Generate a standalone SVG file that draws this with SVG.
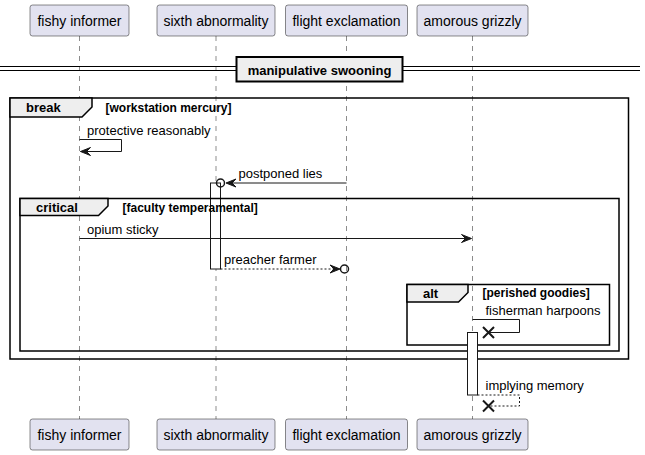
<svg xmlns="http://www.w3.org/2000/svg" width="645" height="455" viewBox="0 0 645 455">
<defs>
<style>
.pbox{fill:#E2E2F0;stroke:#181818;stroke-width:0.5}
.ptxt{font-family:"Liberation Sans",Arial,sans-serif;font-size:14px;fill:#000;text-anchor:middle}
.life{stroke:#181818;stroke-width:0.5;stroke-dasharray:5,5;fill:none}
.frame{fill:none;stroke:#000;stroke-width:1.5}
.tab{fill:#EEEEEE;stroke:#000;stroke-width:1.5}
.ftitle{font-family:"Liberation Sans",Arial,sans-serif;font-size:13px;font-weight:bold;fill:#000}
.fcond{font-family:"Liberation Sans",Arial,sans-serif;font-size:12px;font-weight:bold;fill:#000}
.msg{font-family:"Liberation Sans",Arial,sans-serif;font-size:13px;fill:#000}
.line{stroke:#181818;stroke-width:1;fill:none}
.dash{stroke:#181818;stroke-width:1;fill:none;stroke-dasharray:2,2}
.head{fill:#181818;stroke:#181818;stroke-width:1}
.act{fill:#FFFFFF;stroke:#181818;stroke-width:1}
.circ{fill:none;stroke:#181818;stroke-width:1.5}
.x{stroke:#181818;stroke-width:2;fill:none}
</style>
</defs>
<rect width="645" height="455" fill="#FFFFFF"/>

<g id="lifelines">
<line class="life" x1="79.5" y1="36" x2="79.5" y2="419"/>
<line class="life" x1="216" y1="36" x2="216" y2="419"/>
<line class="life" x1="346.5" y1="36" x2="346.5" y2="419"/>
<line class="life" x1="472.5" y1="36" x2="472.5" y2="419"/>
</g>

<g id="fishy-informer">
<rect class="pbox" x="30" y="5" width="99" height="31" rx="2.5"/>
<text class="ptxt" x="79.5" y="25.5">fishy informer</text>
<rect class="pbox" x="30" y="419" width="99" height="31" rx="2.5"/>
<text class="ptxt" x="79.5" y="439.5">fishy informer</text>
</g>
<g id="sixth-abnormality">
<rect class="pbox" x="157" y="5" width="118" height="31" rx="2.5"/>
<text class="ptxt" x="216" y="25.5">sixth abnormality</text>
<rect class="pbox" x="157" y="419" width="118" height="31" rx="2.5"/>
<text class="ptxt" x="216" y="439.5">sixth abnormality</text>
</g>
<g id="flight-exclamation">
<rect class="pbox" x="285.5" y="5" width="122" height="31" rx="2.5"/>
<text class="ptxt" x="346.5" y="25.5">flight exclamation</text>
<rect class="pbox" x="285.5" y="419" width="122" height="31" rx="2.5"/>
<text class="ptxt" x="346.5" y="439.5">flight exclamation</text>
</g>
<g id="amorous-grizzly">
<rect class="pbox" x="417" y="5" width="111" height="31" rx="2.5"/>
<text class="ptxt" x="472.5" y="25.5">amorous grizzly</text>
<rect class="pbox" x="417" y="419" width="111" height="31" rx="2.5"/>
<text class="ptxt" x="472.5" y="439.5">amorous grizzly</text>
</g>

<g id="divider">
<line x1="0" y1="66.5" x2="640" y2="66.5" stroke="#000" stroke-width="1"/>
<line x1="0" y1="70.5" x2="640" y2="70.5" stroke="#000" stroke-width="1"/>
<rect x="236.5" y="57" width="166" height="24.5" fill="#EEEEEE" stroke="#000" stroke-width="2"/>
<text class="ftitle" x="319.5" y="74.5" text-anchor="middle">manipulative swooning</text>
</g>

<g id="frame-break">
<rect class="frame" x="10" y="98" width="618.5" height="261"/>
<path class="tab" d="M10,98 H92 V107 L82,117 H10 Z"/>
<text class="ftitle" x="26" y="112">break</text>
<text class="fcond" x="105.5" y="111.5">[workstation mercury]</text>
</g>

<g id="activation-sixth">
<rect class="act" x="210.5" y="183" width="10" height="86"/>
</g>

<g id="frame-critical">
<rect class="frame" x="20" y="198.5" width="599" height="152.5"/>
<path class="tab" d="M20,198.5 H108 V206 L98.5,215.5 H20 Z"/>
<text class="ftitle" x="36" y="212">critical</text>
<text class="fcond" x="122.5" y="212">[faculty temperamental]</text>
</g>

<g id="frame-alt">
<rect class="frame" x="407" y="284.5" width="202.5" height="60.5"/>
<path class="tab" d="M407,284.5 H468 V292.5 L458.5,302 H407 Z"/>
<text class="ftitle" x="423" y="298">alt</text>
<text class="fcond" x="482.5" y="297">[perished goodies]</text>
</g>

<g id="activation-grizzly">
<rect class="act" x="467.5" y="332.5" width="10" height="62.5"/>
</g>

<g id="connectors">
<!-- protective reasonably -->
<polyline class="line" points="79.5,139.5 121.5,139.5 121.5,151.5 80.5,151.5"/>
<polygon class="head" points="80.5,151.5 90.5,147.5 86.5,151.5 90.5,155.5"/>
<text class="msg" x="87" y="135">protective reasonably</text>

<!-- postponed lies -->
<line class="line" x1="346.5" y1="183" x2="227" y2="183"/>
<polygon class="head" points="226,183 236,179 232,183 236,187"/>
<circle class="circ" cx="220.5" cy="183" r="4"/>
<text class="msg" x="238.5" y="178">postponed lies</text>

<!-- opium sticky -->
<line class="line" x1="79.5" y1="238.5" x2="470.5" y2="238.5"/>
<polygon class="head" points="471.5,238.5 461.5,234.5 465.5,238.5 461.5,242.5"/>
<text class="msg" x="87" y="234">opium sticky</text>

<!-- preacher farmer -->
<line class="dash" x1="220.5" y1="269" x2="339" y2="269"/>
<polygon class="head" points="340,269 330,265 334,269 330,273"/>
<circle class="circ" cx="344.5" cy="269" r="4"/>
<text class="msg" x="224" y="263.5">preacher farmer</text>

<!-- fisherman harpoons -->
<polyline class="line" points="472.5,319.5 519.5,319.5 519.5,332.5 489,332.5"/>
<path class="x" d="M483,327 L494,338 M494,327 L483,338"/>
<text class="msg" x="485.5" y="315">fisherman harpoons</text>

<!-- implying memory -->
<polyline class="dash" points="477.5,395 519.5,395 519.5,406 489,406"/>
<path class="x" d="M483,400.5 L494,411.5 M494,400.5 L483,411.5"/>
<text class="msg" x="485.5" y="389.5">implying memory</text>
</g>
</svg>
